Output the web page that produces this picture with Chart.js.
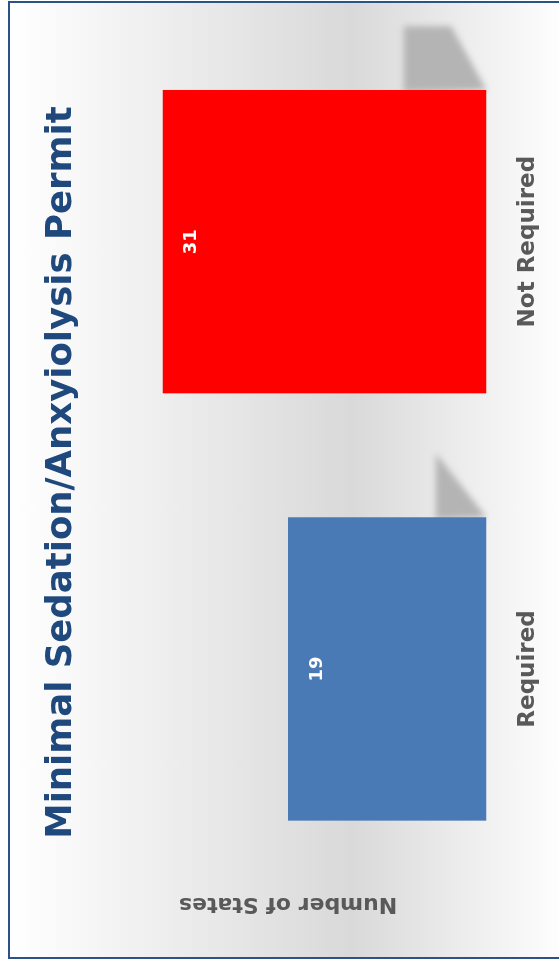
<!DOCTYPE html>
<html lang="en">
<head>
    <meta charset="UTF-8">
    <title>Minimal Sedation/Anxyiolysis Permit</title>
    <style>
        body { margin: 0; width: 559px; height: 964px; overflow: hidden; background: #fff; }
        /* the chart is laid out landscape and turned a quarter left */
        #wrap { position: absolute; left: 0; top: 0; width: 964px; height: 559px; overflow: hidden;
                transform-origin: 0 0; transform: translateY(964px) rotate(-90deg); }
        #frame { position: absolute; left: 5px; top: 8px; width: 954px; height: 600px;
                 border: 2px solid #2c5287;
                 background: linear-gradient(to bottom, #ffffff 0%, #d9d9d9 57%, #ffffff 93%); }
        #chart { position: absolute; left: 0; top: 0; }
    </style>
    <script src="https://cdn.jsdelivr.net/npm/chart.js"></script>
</head>
<body>
    <div id="wrap">
        <div id="frame"></div>
        <canvas id="chart" width="964" height="559"></canvas>
    </div>

    <script>
        const categories = ['Required', 'Not Required'];
        const states = [19, 31];
        const barColors = ['blue', '#ff0000'];
        const chartTitle = 'Minimal Sedation/Anxyiolysis Permit';
        const axisTitle = 'Number of States';

        const FONT = "'DejaVu Sans', sans-serif";

        // soft grey shadow behind the top of each bar (the 3-d look of the original)
        const barShadow = {
            id: 'barShadow',
            beforeDatasetsDraw(chart) {
                const ctx = chart.ctx;
                const fold = [0, 0.57];
                chart.getDatasetMeta(0).data.forEach((bar, i) => {
                    const right = bar.x + bar.width / 2;
                    const h = bar.base - bar.y;
                    const top = bar.base - h * 0.255;
                    const w = bar.width * 0.21;
                    ctx.save();
                    ctx.filter = 'blur(3px)';
                    ctx.fillStyle = '#b4b4b4';
                    ctx.beginPath();
                    ctx.moveTo(right - 2, top);
                    ctx.lineTo(right + w, top);
                    ctx.lineTo(right + w, top + (bar.base - top) * fold[i]);
                    ctx.lineTo(right, bar.base);
                    ctx.closePath();
                    ctx.fill();
                    ctx.restore();
                });
            }
        };

        // value written inside the bar near its top
        const barValues = {
            id: 'barValues',
            afterDatasetsDraw(chart) {
                const ctx = chart.ctx;
                ctx.save();
                ctx.font = 'bold 18px ' + FONT;
                ctx.fillStyle = '#ffffff';
                ctx.textAlign = 'center';
                ctx.textBaseline = 'middle';
                chart.getDatasetMeta(0).data.forEach((bar, i) => {
                    ctx.fillText(String(states[i]), bar.x, bar.y + 29);
                });
                ctx.restore();
            }
        };

        const ctx = document.getElementById('chart').getContext('2d');

        function blueGradient(context) {
            const bar = context.element;
            if (!bar || bar.y === undefined) return '#4a7ab5';
            const g = ctx.createLinearGradient(0, bar.y, 0, bar.base);
            g.addColorStop(0, '#4f82bf');
            g.addColorStop(0.35, '#4c7fbb');
            g.addColorStop(1, '#3a68a1');
            return g;
        }

        new Chart(ctx, {
            type: 'bar',
            data: {
                labels: categories,
                datasets: [{
                    data: states,
                    backgroundColor: (c) => barColors[c.dataIndex] === 'blue' ? blueGradient(c) : barColors[c.dataIndex],
                    borderWidth: 0,
                    categoryPercentage: 1,
                    barPercentage: 0.71
                }]
            },
            options: {
                responsive: false,
                animation: false,
                layout: { padding: { left: 47, right: 28, top: 0, bottom: -11 } },
                plugins: {
                    legend: { display: false },
                    tooltip: { enabled: false },
                    title: {
                        display: true,
                        text: chartTitle,
                        color: '#1f497d',
                        font: { family: FONT, size: 35.5, weight: 'bold' },
                        padding: { top: 40, bottom: 7 }
                    }
                },
                scales: {
                    x: {
                        grid: { display: false, drawTicks: false },
                        border: { display: false },
                        ticks: {
                            color: '#595959',
                            padding: 28,
                            font: { family: FONT, size: 23, weight: 'bold' }
                        }
                    },
                    y: {
                        min: 0,
                        max: 38,
                        grid: { display: false, drawTicks: false },
                        border: { display: false },
                        ticks: { display: false },
                        title: {
                            display: true,
                            text: axisTitle,
                            color: '#595959',
                            font: { family: FONT, size: 22, weight: 'bold' },
                            padding: { top: 0, bottom: 8 }
                        }
                    }
                }
            },
            plugins: [barShadow, barValues]
        });
    </script>
</body>
</html>
